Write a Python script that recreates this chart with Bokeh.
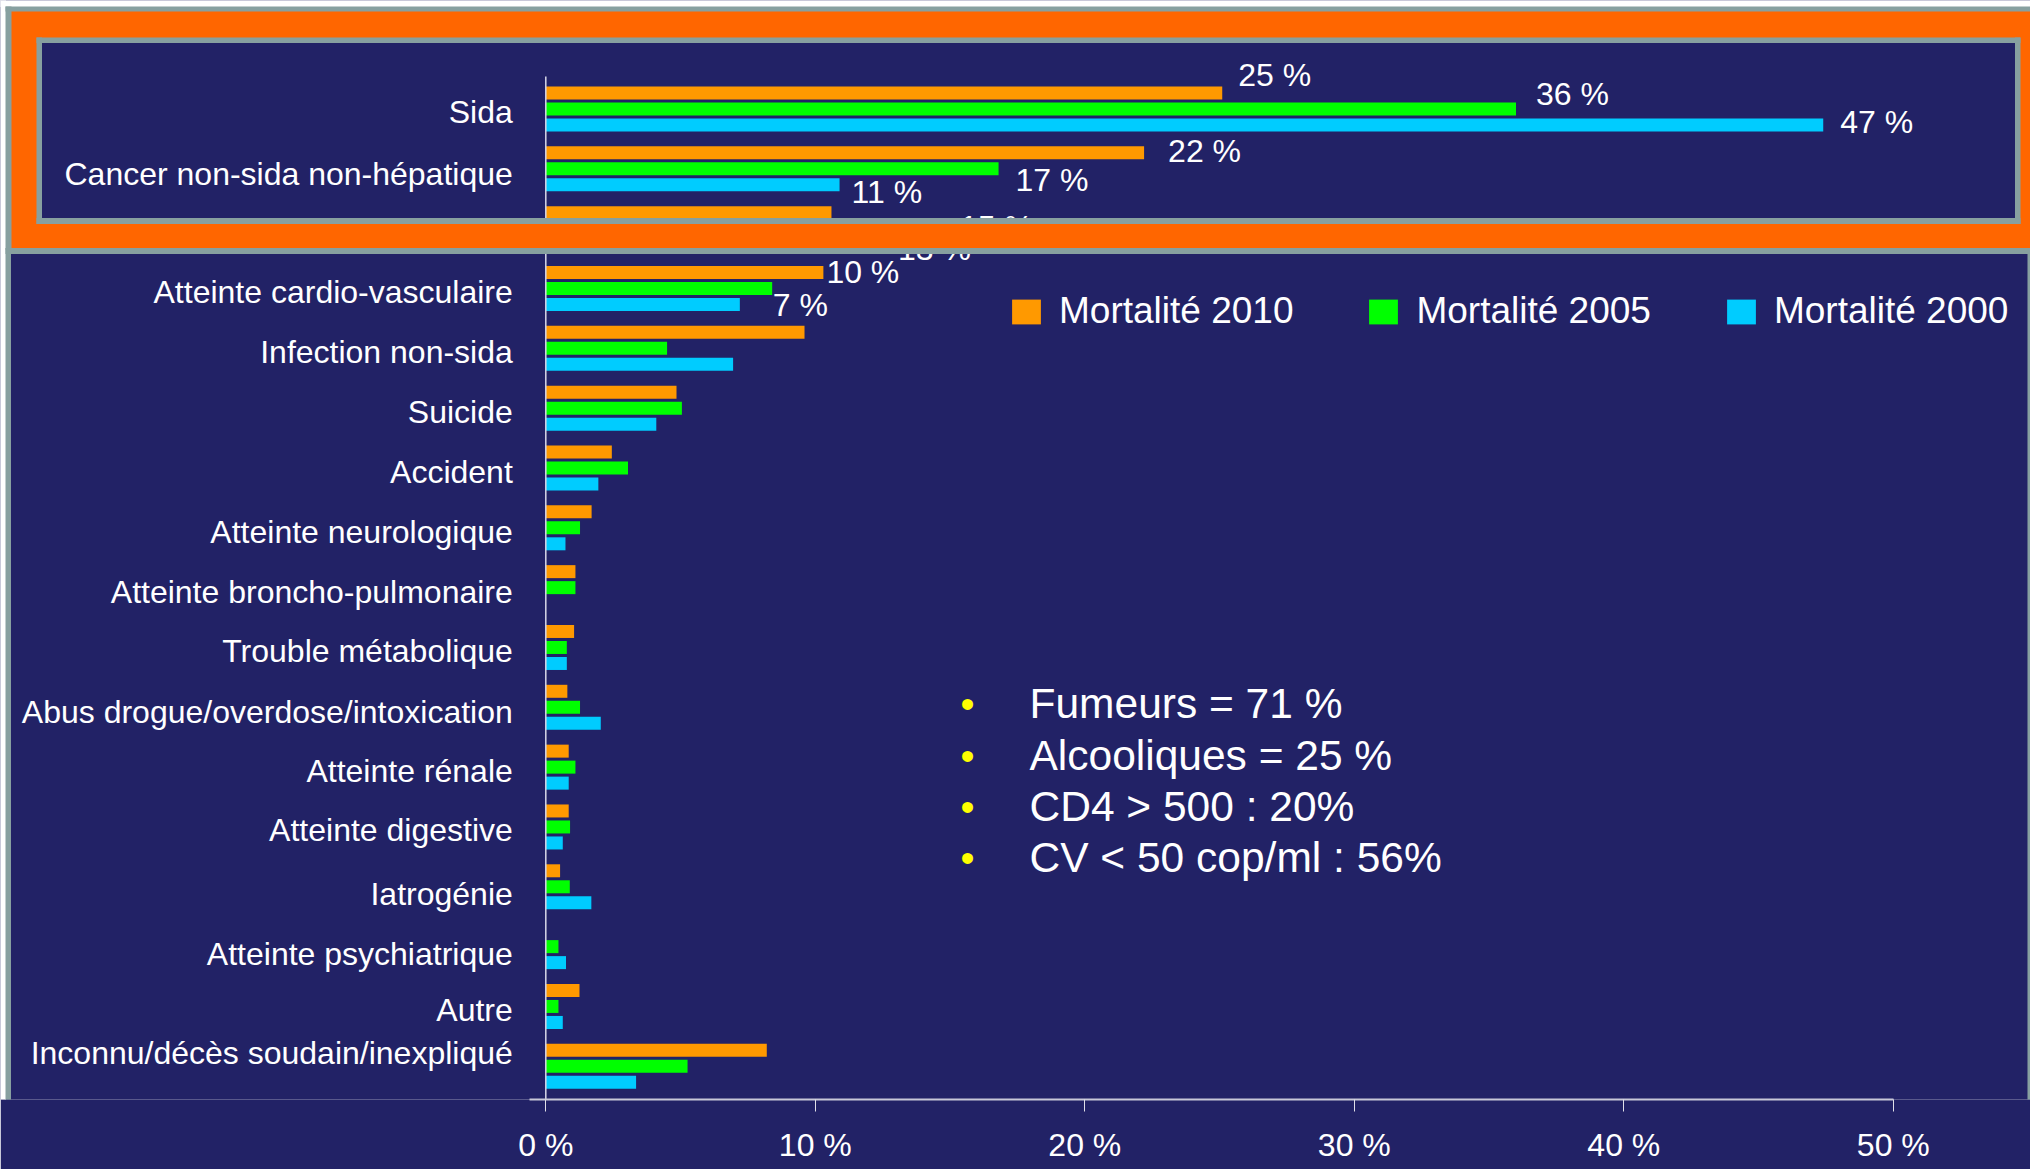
from bokeh.plotting import figure
from bokeh.models import (Range1d, BoxAnnotation, Legend, LegendItem, FixedTicker,
                          ColumnDataSource)
from bokeh.core.properties import value
from bokeh.embed import file_html
from bokeh.resources import INLINE

# ---------------- data ----------------
categories = [
    "Sida",
    "Cancer non-sida non-hépatique",
    "Atteinte hépatique",
    "Atteinte cardio-vasculaire",
    "Infection non-sida",
    "Suicide",
    "Accident",
    "Atteinte neurologique",
    "Atteinte broncho-pulmonaire",
    "Trouble métabolique",
    "Abus drogue/overdose/intoxication",
    "Atteinte rénale",
    "Atteinte digestive",
    "Iatrogénie",
    "Atteinte psychiatrique",
    "Autre",
    "Inconnu/décès soudain/inexpliqué",
]
series_names = ["Mortalité 2010", "Mortalité 2005", "Mortalité 2000"]
mortalite_2010 = [25.1, 22.2, 10.6, 10.3, 9.6, 4.85, 2.45, 1.7, 1.1, 1.05, 0.8, 0.85, 0.85, 0.53, 0.0, 1.25, 8.2]
mortalite_2005 = [36.0, 16.8, 15.0, 8.4, 4.5, 5.05, 3.05, 1.27, 1.1, 0.78, 1.27, 1.1, 0.9, 0.89, 0.47, 0.47, 5.26]
mortalite_2000 = [47.4, 10.9, 12.7, 7.2, 6.95, 4.1, 1.95, 0.73, 0.0, 0.78, 2.04, 0.85, 0.63, 1.69, 0.75, 0.63, 3.35]

tick_values = [0, 10, 20, 30, 40, 50]
tick_labels = ["0 %", "10 %", "20 %", "30 %", "40 %", "50 %"]

label_category = ["Sida", "Sida", "Sida",
                  "Cancer non-sida non-hépatique", "Cancer non-sida non-hépatique", "Cancer non-sida non-hépatique",
                  "Atteinte hépatique", "Atteinte hépatique",
                  "Atteinte cardio-vasculaire", "Atteinte cardio-vasculaire"]
label_series = ["Mortalité 2010", "Mortalité 2005", "Mortalité 2000",
                "Mortalité 2010", "Mortalité 2005", "Mortalité 2000",
                "Mortalité 2005", "Mortalité 2000",
                "Mortalité 2010", "Mortalité 2000"]
label_text = ["25 %", "36 %", "47 %", "22 %", "17 %", "11 %", "15 %", "13 %", "10 %", "7 %"]

bullet_lines = ["Fumeurs = 71 %", "Alcooliques = 25 %", "CD4 > 500 : 20%", "CV < 50 cop/ml : 56%"]

# ---------------- styling / layout ----------------
NAVY = "#222266"
ORANGE_FRAME = "#FF6600"
GRAY = "#87A0A0"
colors = {"Mortalité 2010": "#FF9900", "Mortalité 2005": "#00FF00", "Mortalité 2000": "#00CCFF"}
FONT = "Liberation Sans"

label_dx = [16, 20, 17, 24, 17, 12, 10, 10, 3, 33]
label_dy = [-18, -15.5, -3, -2, 11.5, 7.5, -2, 4, 0, 1]
cat_label_dy = [3, 5, 3, 4, 4, 4, 4, 4, 4, 4, 4.5, 4, 3.5, 7, 7, 4, -13]

W, H = 2030, 1169
X0_PX, PX_PER_UNIT = 545.3, 26.95     # page px of 0 %, px per 1 %
Y0_PX, SLOT_PX = 108.5, 59.83         # page px of first category, px per category
BAR_H = 13.0 / SLOT_PX
SHIFT = 16.0 / SLOT_PX
series_shift = {"Mortalité 2010": -SHIFT, "Mortalité 2005": 0.0, "Mortalité 2000": SHIFT}


def px2x(px):
    return (px - X0_PX) / PX_PER_UNIT


def px2y(py):
    return (py - Y0_PX) / SLOT_PX


p = figure(width=W, height=H, output_backend="svg", toolbar_location=None,
           x_range=Range1d(px2x(0), px2x(W)),
           y_range=Range1d(px2y(1099), px2y(0)),
           y_axis_location=None, x_axis_location="below",
           min_border_left=0, min_border_right=0, min_border_top=0, min_border_bottom=70,
           background_fill_color=NAVY, border_fill_color=NAVY, outline_line_color=None)
p.grid.visible = False

# ---------------- bars ----------------
idx = list(range(len(categories)))
series_values = {"Mortalité 2010": mortalite_2010, "Mortalité 2005": mortalite_2005,
                 "Mortalité 2000": mortalite_2000}
renderers = {}
for name in series_names:
    src = ColumnDataSource(dict(y=[i + series_shift[name] for i in idx],
                                right=series_values[name], cat=categories))
    renderers[name] = p.hbar(y="y", left=0, right="right", height=BAR_H, source=src,
                             fill_color=colors[name], line_color=None)

# vertical axis line (category axis)
p.segment(x0=[0], y0=[px2y(76)], x1=[0], y1=[px2y(1099)], line_color="#D8D8E8", line_width=1.5)

# category labels
cat_src = ColumnDataSource(dict(x=[0] * len(categories), y=idx, text=categories, dy=cat_label_dy))
p.text(x="x", y="y", text="text", source=cat_src, x_offset=-33, y_offset="dy",
       text_align="right", text_baseline="middle", text_color="white",
       text_font=value(FONT), text_font_size="32px")

# value labels
lx, ly = [], []
for c, s in zip(label_category, label_series):
    i = categories.index(c)
    lx.append(series_values[s][i])
    ly.append(i + series_shift[s])
lab_src = ColumnDataSource(dict(x=lx, y=ly, text=label_text, dx=label_dx, dy=label_dy))
p.text(x="x", y="y", text="text", source=lab_src, x_offset="dx", y_offset="dy",
       text_align="left", text_baseline="middle", text_color="white",
       text_font=value(FONT), text_font_size="32px")

# bullet list
bullet_y = [703, 755, 806, 857]
b_src = ColumnDataSource(dict(x=[px2x(1029)] * len(bullet_lines), y=[px2y(v) for v in bullet_y],
                              text=bullet_lines))
p.text(x="x", y="y", text="text", source=b_src, text_align="left", text_baseline="middle",
       text_color="white", text_font=value(FONT), text_font_size="42.5px")
dot_src = ColumnDataSource(dict(x=[px2x(960)] * len(bullet_lines), y=[px2y(v) for v in bullet_y],
                                text=["•"] * len(bullet_lines)))
p.text(x="x", y="y", text="text", source=dot_src, text_align="left", text_baseline="middle",
       text_color="#FFFF00", text_font=value(FONT), text_font_size="40px")

# ---------------- x axis ----------------
ax = p.xaxis[0]
ax.ticker = FixedTicker(ticks=tick_values)
ax.major_label_overrides = dict(zip(tick_values, tick_labels))
ax.bounds = (-0.6, 50)
ax.axis_line_color = "#C8C8D8"
ax.axis_line_width = 2
ax.major_tick_line_color = "#E0E0E8"
ax.major_tick_out = 12
ax.major_tick_in = 0
ax.minor_tick_line_color = None
ax.major_label_text_font = FONT
ax.major_label_text_font_size = "32px"
ax.major_label_text_color = "white"
ax.major_label_standoff = 15

# ---------------- legend ----------------
legend = Legend(items=[LegendItem(label=n, renderers=[renderers[n]]) for n in series_names],
                orientation="horizontal", location=(1008, 767),
                glyph_width=36, glyph_height=31, label_standoff=15, spacing=72,
                padding=0, margin=0, border_line_color=None, background_fill_alpha=0,
                label_text_font=FONT, label_text_font_size="37px", label_text_color="white")
p.add_layout(legend)


# ---------------- highlight frame overlay ----------------
def box(l, r, t, b, color):
    p.add_layout(BoxAnnotation(left=px2x(l), right=px2x(r), top=px2y(t), bottom=px2y(b),
                               fill_color=color, fill_alpha=1.0, line_alpha=0))


# page edge
box(-10, 2040, -10, 6.5, "white")
box(-10, 5.5, -10, 1180, "white")
# orange frame (overlapping strips, drawn first)
box(10, 2040, 10, 38.5, ORANGE_FRAME)
box(10, 2040, 221.5, 249, ORANGE_FRAME)
box(10, 37.5, 37, 223, ORANGE_FRAME)
box(2018.5, 2040, 37, 223, ORANGE_FRAME)
# outer gray lines
box(5, 2040, 6, 11, GRAY)
box(5, 11, 6, 249, GRAY)
box(5, 10.5, 248, 1180, GRAY)
box(5, 2040, 247.5, 253.5, GRAY)
box(2027, 2040, 253, 1180, GRAY)
# inner gray border
box(36, 2020, 37, 42.5, GRAY)
box(36, 2020, 217.5, 223.5, GRAY)
box(36, 41.5, 37, 223.5, GRAY)
box(2014.5, 2020, 37, 223.5, GRAY)

open("out.html", "w").write(file_html(p, INLINE, title="Mortalité"))
